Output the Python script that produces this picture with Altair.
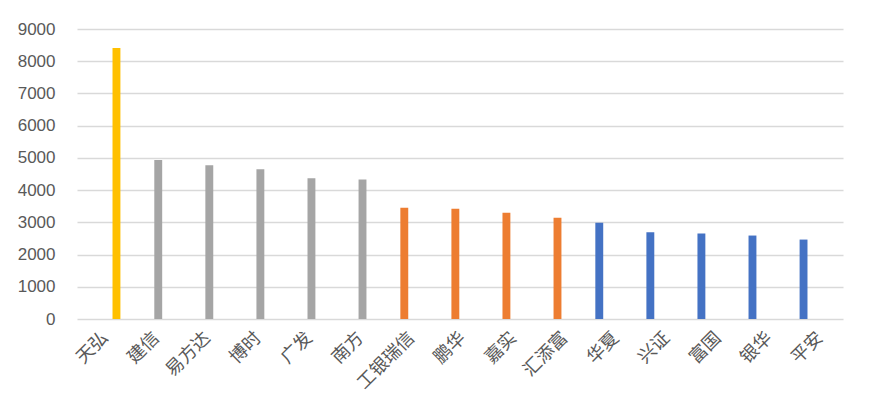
import altair as alt
import pandas as pd

categories = ["天弘", "建信", "易方达", "博时", "广发", "南方", "工银瑞信", "鹏华", "嘉实",
              "汇添富", "华夏", "兴证", "富国", "银华", "平安"]
values = [8410, 4935, 4775, 4650, 4365, 4330, 3455, 3425, 3300, 3145, 2990, 2690, 2650, 2590, 2465]
groups = ["s1", "s2", "s2", "s2", "s2", "s2", "s3", "s3", "s3", "s3", "s4", "s4", "s4", "s4", "s4"]
group_colors = {"s1": "#FFC000", "s2": "#A5A5A5", "s3": "#ED7D31", "s4": "#4472C4"}
offset_order = ["s4", "s3", "s2", "s1"]
y_ticks = [0, 1000, 2000, 3000, 4000, 5000, 6000, 7000, 8000, 9000]

df = pd.DataFrame({"cat": categories, "val": values, "grp": groups})

chart = alt.Chart(df).mark_bar().encode(
    x=alt.X("cat:N", sort=categories, title=None,
            scale=alt.Scale(paddingInner=0.3, paddingOuter=0.15),
            axis=alt.Axis(labelAngle=-45, labelAlign="right", labelBaseline="middle",
                          labelFont="Noto Sans CJK SC", labelFontSize=18,
                          labelColor="#595959", labelPadding=16, labelOffset=3, ticks=False,
                          domain=False, grid=False)),
    xOffset=alt.XOffset("grp:N", sort=offset_order,
                        scale=alt.Scale(domain=offset_order, paddingInner=0.15, paddingOuter=0)),
    y=alt.Y("val:Q", title=None,
            scale=alt.Scale(domain=[0, 9000], nice=False),
            axis=alt.Axis(values=y_ticks, format="d", labelFont="Liberation Sans", labelFontSize=17,
                          labelColor="#595959", labelPadding=22, ticks=False, domain=False,
                          grid=True, gridColor="#d9d9d9", gridWidth=1.5)),
    color=alt.Color("grp:N", legend=None,
                    scale=alt.Scale(domain=list(group_colors.keys()),
                                    range=list(group_colors.values()))),
).properties(
    width=766, height=290,
    autosize=alt.AutoSizeParams(type="none"),
    padding={"left": 69, "top": 21, "right": 19, "bottom": 80},
).configure(background="white").configure_view(stroke=None)

chart.save("out.html", embed_options={"renderer": "svg", "actions": False})
